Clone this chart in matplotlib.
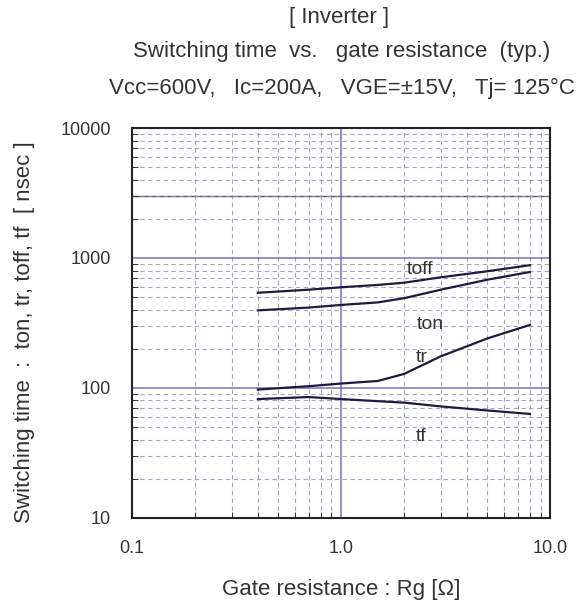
import numpy as np
import matplotlib
matplotlib.use("Agg")
import matplotlib.pyplot as plt

plt.rcParams['font.family'] = ['Liberation Sans', 'DejaVu Sans']

# gate resistance [ohm] and switching times [nsec]
rg = [0.4, 0.7, 1.0, 1.5, 2.0, 3.0, 5.0, 8.0]
toff = [540, 570, 595, 620, 645, 710, 790, 880]
ton = [395, 415, 435, 455, 490, 570, 680, 780]
tr = [97, 103, 108, 113, 128, 175, 240, 305]
tf = [82, 85, 82, 79, 77, 72, 67, 63]

curve_labels = ['toff', 'ton', 'tr', 'tf']
label_pos = [(2.07, 809), (2.3, 305), (2.27, 170), (2.27, 42)]

x_ticks = [0.1, 1.0, 10.0]
x_ticklabels = ['0.1', '1.0', '10.0']
y_ticks = [10, 100, 1000, 10000]
y_ticklabels = ['10', '100', '1000', '10000']

txt = '#333333'
line_col = '#1c1c40'

W, H = 581, 607
fig = plt.figure(figsize=(W / 100, H / 100), dpi=100)
ax = fig.add_axes([0.227, 0.147, 0.72, 0.642])
ax.set_xscale('log')
ax.set_yscale('log')
ax.set_xlim(0.1, 10)
ax.set_ylim(10, 10000)

# grid: solid blue at decades, dashed at minors
ax.grid(which='major', color='#6a6ac0', linestyle='-', linewidth=1.3, alpha=0.8)
ax.grid(which='minor', color='#9090b8', linestyle=(0, (4, 3)), linewidth=0.8, alpha=0.8)
ax.axhline(3000, color='#555566', linewidth=1.0, zorder=1)

for y in (toff, ton, tr, tf):
    ax.plot(rg, y, color=line_col, linewidth=1.6, zorder=3)

for lab, (px, py) in zip(curve_labels, label_pos):
    ax.text(px, py, lab, fontsize=14, color=txt, ha='left', va='center', zorder=4)

ax.set_xticks(x_ticks)
ax.set_xticklabels(x_ticklabels)
ax.set_yticks(y_ticks)
ax.set_yticklabels(y_ticklabels)
ax.tick_params(which='both', direction='in', colors='#222222', labelcolor=txt, labelsize=13)
ax.tick_params(which='major', length=0)
ax.tick_params(axis='x', which='major', pad=16)
ax.tick_params(axis='y', which='major', pad=15)
ax.tick_params(which='minor', length=4)
ax.tick_params(axis='y', which='minor', labelleft=False)
ax.tick_params(axis='x', which='minor', labelbottom=False)
for s in ax.spines.values():
    s.set_linewidth(1.5)
    s.set_color('#222222')

fig.text(341 / W, 1 - 590 / H, 'Gate resistance : Rg [Ω]', fontsize=16, color=txt,
         ha='center', va='center')
fig.text(25 / W, 1 - 332 / H, 'Switching time  :  ton, tr, toff, tf  [ nsec ]', fontsize=16,
         color=txt, ha='center', va='center', rotation=90)

fig.text(339 / W, 1 - 18 / H, '[ Inverter ]', fontsize=16, color=txt, ha='center', va='center')
fig.text(342 / W, 1 - 52 / H, 'Switching time  vs.   gate resistance  (typ.)', fontsize=16,
         color=txt, ha='center', va='center')
fig.text(342 / W, 1 - 88 / H, 'Vcc=600V,   Ic=200A,   VGE=±15V,   Tj= 125°C', fontsize=16,
         color=txt, ha='center', va='center')

fig.savefig('out.png', dpi=100)
